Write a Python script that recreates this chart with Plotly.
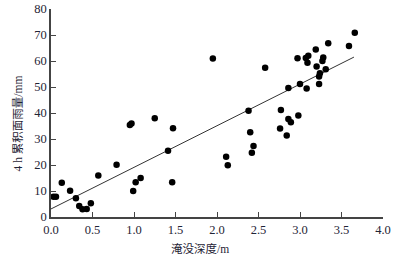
import plotly.graph_objects as go

depth = [0.03, 0.06, 0.13, 0.23, 0.30, 0.34, 0.38, 0.43, 0.48, 0.57, 0.79, 0.99, 1.02, 1.08,
         0.95, 0.97, 1.25, 1.41, 1.46, 1.47, 1.95, 2.11, 2.13, 2.38, 2.40, 2.44, 2.42, 2.58,
         2.76, 2.77, 2.84, 2.86, 2.89, 2.98, 2.86, 3.00, 3.08, 2.97, 3.07, 3.10, 3.09, 3.19,
         3.34, 3.59, 3.66, 3.28, 3.27, 3.20, 3.31, 3.24, 3.23, 3.23]
rain = [7.8, 7.8, 13.2, 10.1, 7.2, 4.2, 3.0, 3.1, 5.3, 16.0, 20.1, 10.0, 13.4, 15.0,
        35.4, 36.0, 38.0, 25.5, 13.4, 34.1, 61.0, 23.2, 19.9, 40.9, 32.6, 27.3, 24.7, 57.4,
        34.0, 41.2, 31.3, 37.7, 36.4, 39.0, 49.6, 51.2, 49.4, 61.1, 61.2, 62.0, 59.3, 64.4,
        66.8, 65.8, 70.9, 61.3, 60.0, 57.9, 56.8, 55.3, 54.0, 51.2]

fit_x = [0.0, 3.65]
fit_slope = 16.0
fit_intercept = 3.1
fit_y = [fit_slope * v + fit_intercept for v in fit_x]

x_ticks = [0.0, 0.5, 1.0, 1.5, 2.0, 2.5, 3.0, 3.5, 4.0]
y_ticks = [0, 10, 20, 30, 40, 50, 60, 70, 80]

x_title = "淹没深度/m"
y_title = "4 h 累积面雨量/mm"

font_fam = "'Liberation Serif', 'Times New Roman', 'Noto Sans CJK SC', serif"
text_color = "#1f2436"

fig = go.Figure()
fig.add_trace(go.Scatter(x=fit_x, y=fit_y, mode="lines",
                         line=dict(color="#333333", width=1), hoverinfo="skip",
                         showlegend=False))
fig.add_trace(go.Scatter(x=depth, y=rain, mode="markers",
                         marker=dict(color="#000000", size=6.5, line=dict(width=0)),
                         cliponaxis=False, showlegend=False))

axis_common = dict(showgrid=False, zeroline=False, showline=True, linecolor="#444444",
                   linewidth=1.5, ticks="inside", ticklen=5, tickwidth=1.2,
                   tickcolor="#444444", mirror=False, automargin=False,
                   tickfont=dict(family=font_fam, size=12.5, color=text_color))

fig.update_xaxes(range=[0, 4], tickvals=x_ticks, ticktext=[f"{v:.1f}" for v in x_ticks],
                 **axis_common)
fig.update_yaxes(range=[0, 80], tickvals=y_ticks, ticktext=[str(v) for v in y_ticks],
                 **axis_common)

fig.add_annotation(text=x_title, xref="paper", yref="paper", x=0.45, y=0,
                   yshift=-31, xanchor="center", yanchor="middle", showarrow=False,
                   font=dict(family=font_fam, size=11.5, color=text_color))
fig.add_annotation(text=y_title, xref="paper", yref="paper", x=0, y=0.45,
                   xshift=-33, xanchor="center", yanchor="middle", showarrow=False,
                   textangle=-90,
                   font=dict(family=font_fam, size=11.5, color=text_color))

fig.update_layout(width=399, height=259, margin=dict(l=51, r=16, t=9, b=42),
                  plot_bgcolor="white", paper_bgcolor="white")

fig.write_html("out.html", config={"displayModeBar": False},
               post_script="document.body.style.margin='0';document.body.style.overflow='hidden';")
